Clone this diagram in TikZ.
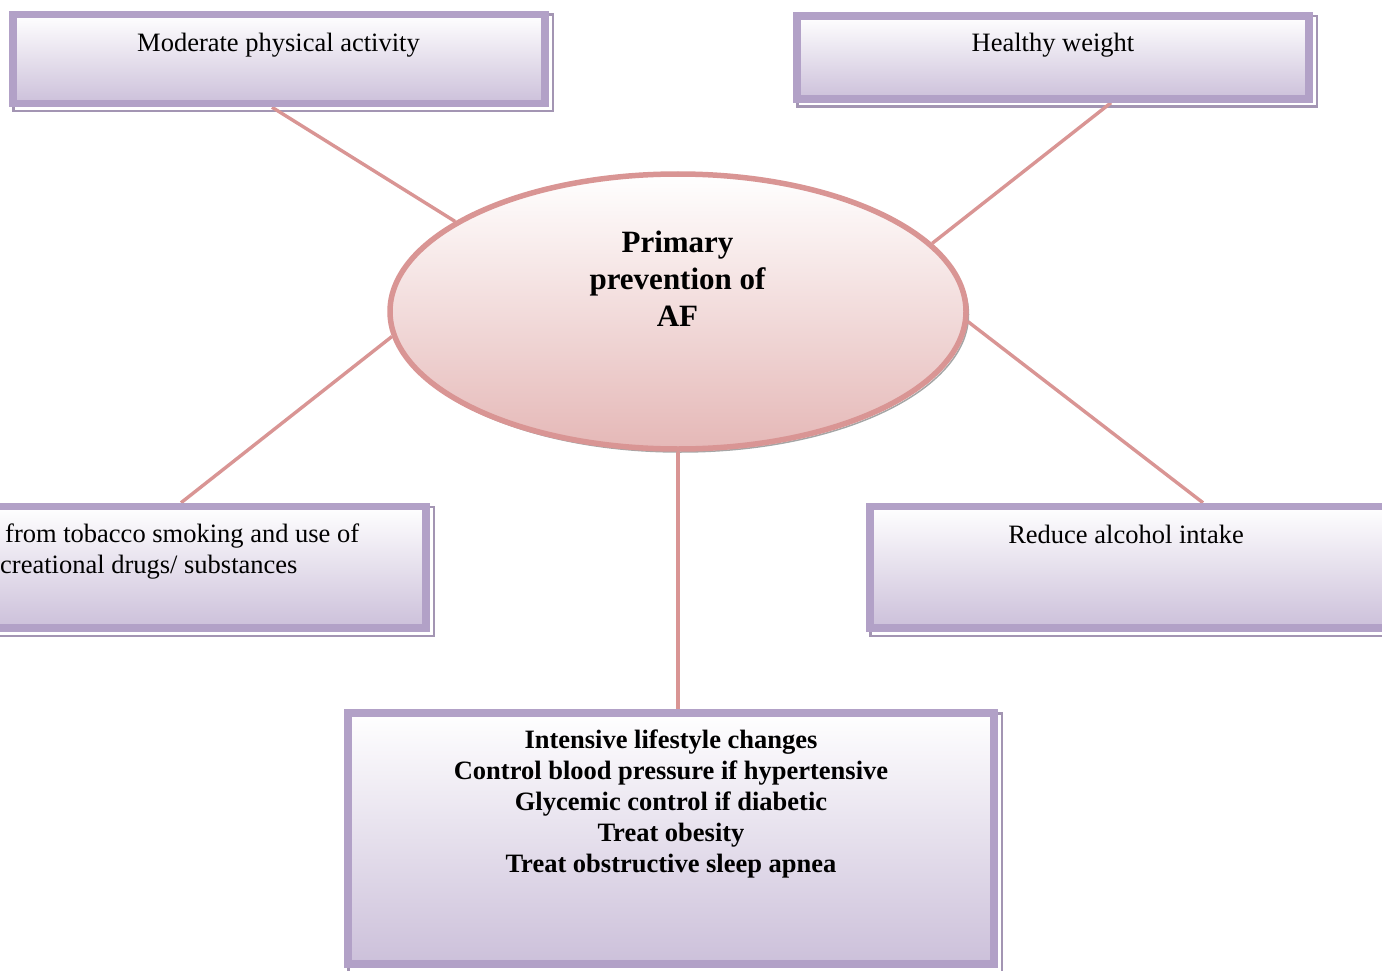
\documentclass[tikz,border=0pt]{standalone}
\usepackage{fontspec}
\setmainfont{Liberation Serif}
\usetikzlibrary{shapes.geometric,backgrounds}
\definecolor{boxline}{HTML}{B2A1C7}
\definecolor{boxbot}{HTML}{CCC0DA}
\definecolor{boxshadow}{HTML}{A395B3}
\definecolor{pinkline}{HTML}{D99594}
\definecolor{ellbot}{HTML}{E5B8B7}
\begin{document}
\begin{tikzpicture}[x=1pt,y=-1pt,
  pbox/.style={draw=boxline, line width=7.5pt, top color=white, bottom color=boxbot,
    rectangle, inner sep=0pt},
  pshadow/.style={draw=boxshadow, line width=2.5pt},
  conn/.style={draw=pinkline, line width=3.4pt},
  lbl/.style={anchor=base, inner sep=0pt, font=\fontsize{26.5}{31}\selectfont},
  lblw/.style={lbl, anchor=base west},
  blbl/.style={anchor=base, inner sep=0pt, font=\fontsize{26.5}{31}\selectfont\bfseries},
  elbl/.style={anchor=base, inner sep=0pt, font=\fontsize{31}{37}\selectfont\bfseries},
]
\useasboundingbox (0,0) rectangle (1382,971);
\clip (0,0) rectangle (1382,971);

% boxes
\node[pbox, minimum width=532pt, minimum height=89pt] (b1) at (279,59) {};
\node[pbox, minimum width=512pt, minimum height=83pt] (b2) at (1053,57.5) {};
\node[pbox, minimum width=446pt, minimum height=121.5pt] (b3) at (203,567.25) {};
\node[pbox, minimum width=530pt, minimum height=121.5pt] (b4) at (1135,567.25) {};
\node[pbox, minimum width=646pt, minimum height=251pt] (b5) at (671,838.5) {};

% ellipse
\node[ellipse, draw=pinkline, line width=5.5pt, top color=white, bottom color=ellbot,
  minimum width=576pt, minimum height=275pt, inner sep=0pt] (ell) at (678,311.5) {};

\begin{scope}[on background layer]
  \foreach \b in {b1,b2,b3,b4,b5}{
    \draw[pshadow] ([shift={(4,4)}]\b.north west) rectangle ([shift={(4,4)}]\b.south east);
  }
  \draw[gray!70, line width=1.5pt] (680.5,314.5) ellipse [x radius=288pt, y radius=137.5pt];
  \draw[conn] ([xshift=-7pt]b1.south) -- (ell.158.5);
  \draw[conn] ([xshift=58pt]b2.south) -- (ell.15.7);
  \draw[conn] ([xshift=-22pt]b3.north) -- (ell.185.8);
  \draw[conn] ([xshift=68pt]b4.north) -- (ell.-2.2);
  \draw[conn] (ell.south) -- (ell.south |- b5.north);
\end{scope}

% texts
\node[lbl] (t1) at (278.5,52) {Moderate physical activity};
\node[lbl] (t2) at (1053,52) {Healthy weight};
\node[lblw] (t3a) at (5,542) {from tobacco smoking and use of};
\node[lblw] (t3b) at (0,573.5) {creational drugs/ substances};
\node[lbl] (t4) at (1126,543) {Reduce alcohol intake};

\node[elbl] (e1) at (677.5,252) {Primary};
\node[elbl] (e2) at (677.5,289) {prevention of};
\node[elbl] (e3) at (677.5,326.5) {AF};

\node[blbl] (m1) at (671,748) {Intensive lifestyle changes};
\node[blbl] (m2) at (671,779) {Control blood pressure if hypertensive};
\node[blbl] (m3) at (671,810) {Glycemic control if diabetic};
\node[blbl] (m4) at (671,841) {Treat obesity};
\node[blbl] (m5) at (671,872) {Treat obstructive sleep apnea};
\end{tikzpicture}
\end{document}
